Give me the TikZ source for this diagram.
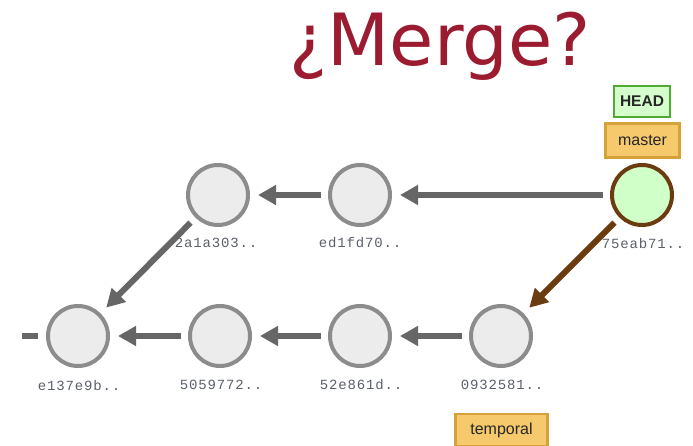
\documentclass[tikz,border=0pt]{standalone}
\usepackage{fontspec}
\setmainfont{Liberation Sans}
\newfontfamily\titlefont{DejaVu Sans}
\newfontfamily\hashfont[LetterSpace=6]{Liberation Mono}
\usetikzlibrary{arrows.meta}
\definecolor{titlered}{RGB}{155,27,48}
\definecolor{cfill}{RGB}{236,236,236}
\definecolor{cdraw}{RGB}{140,140,140}
\definecolor{headfill}{RGB}{208,255,200}
\definecolor{brownc}{RGB}{107,60,15}
\definecolor{arrgray}{RGB}{102,102,102}
\definecolor{hashc}{RGB}{90,95,105}
\definecolor{tagfill}{RGB}{246,202,108}
\definecolor{tagdraw}{RGB}{212,162,56}
\definecolor{headdraw}{RGB}{80,170,50}
\definecolor{headbox}{RGB}{214,255,206}
\tikzset{
  commit/.style={circle, minimum size=60pt, inner sep=0pt, fill=cfill, draw=cdraw, line width=4pt},
  headcommit/.style={commit, fill=headfill, draw=brownc},
  hash/.style={font=\hashfont\fontsize{14}{14}\selectfont, text=hashc, inner sep=0pt},
  conn/.style={draw=arrgray, line width=6pt, -{Triangle[length=18pt,width=19pt]}, shorten >=8pt, shorten <=7pt},
  brownconn/.style={conn, draw=brownc, -{Triangle[length=18pt,width=19pt,color=brownc]}},
  tag/.style={draw=tagdraw, fill=tagfill, line width=2.5pt, font=\fontsize{16}{16}\selectfont, text=black!85, inner sep=0pt},
  headtag/.style={tag, draw=headdraw, fill=headbox, font=\bfseries\fontsize{15.5}{15.5}\selectfont}
}
\begin{document}
\begin{tikzpicture}[x=1pt,y=-1pt]
\useasboundingbox (0,0) rectangle (693,446);
\node[font=\titlefont\fontsize{72}{72}\selectfont, text=titlered, anchor=base, inner sep=0pt] (title) at (440,66) {¿Merge?};

\node[commit] (c2a1) at (218,195) {};
\node[commit] (ced1) at (360,195) {};
\node[headcommit] (c75e) at (642,195) {};
\node[commit] (ce13) at (78,336) {};
\node[commit] (c505) at (220,336) {};
\node[commit] (c52e) at (360,336) {};
\node[commit] (c093) at (501,336) {};

\node[hash] (l2a1) at (216,243) {2a1a303..};
\node[hash] (led1) at (360,243) {ed1fd70..};
\node[hash] (l75e) at (643,243) {75eab71..};
\node[hash] (le13) at (79,385) {e137e9b..};
\node[hash] (l505) at (221,385) {5059772..};
\node[hash] (l52e) at (361,385) {52e861d..};
\node[hash] (l093) at (502,385) {0932581..};

\node[headtag, minimum width=56pt, minimum height=31pt] (head) at (642,101.5) {HEAD};
\node[tag, minimum width=74pt, minimum height=34pt] (master) at (642.5,140.5) {master};
\node[tag, minimum width=92pt, minimum height=32pt] (temporal) at (501.5,430) {temporal};

\coordinate (off) at (22,336);

\draw[conn] (c75e) -- (ced1);
\draw[conn] (ced1) -- (c2a1);
\draw[conn] (c2a1) -- (ce13);
\draw[conn] (c093) -- (c52e);
\draw[conn] (c52e) -- (c505);
\draw[conn] (c505) -- (ce13);
\draw[draw=arrgray, line width=6pt, shorten <=8pt] (ce13) -- (off);
\draw[brownconn] (c75e) -- (c093);
\end{tikzpicture}
\end{document}
